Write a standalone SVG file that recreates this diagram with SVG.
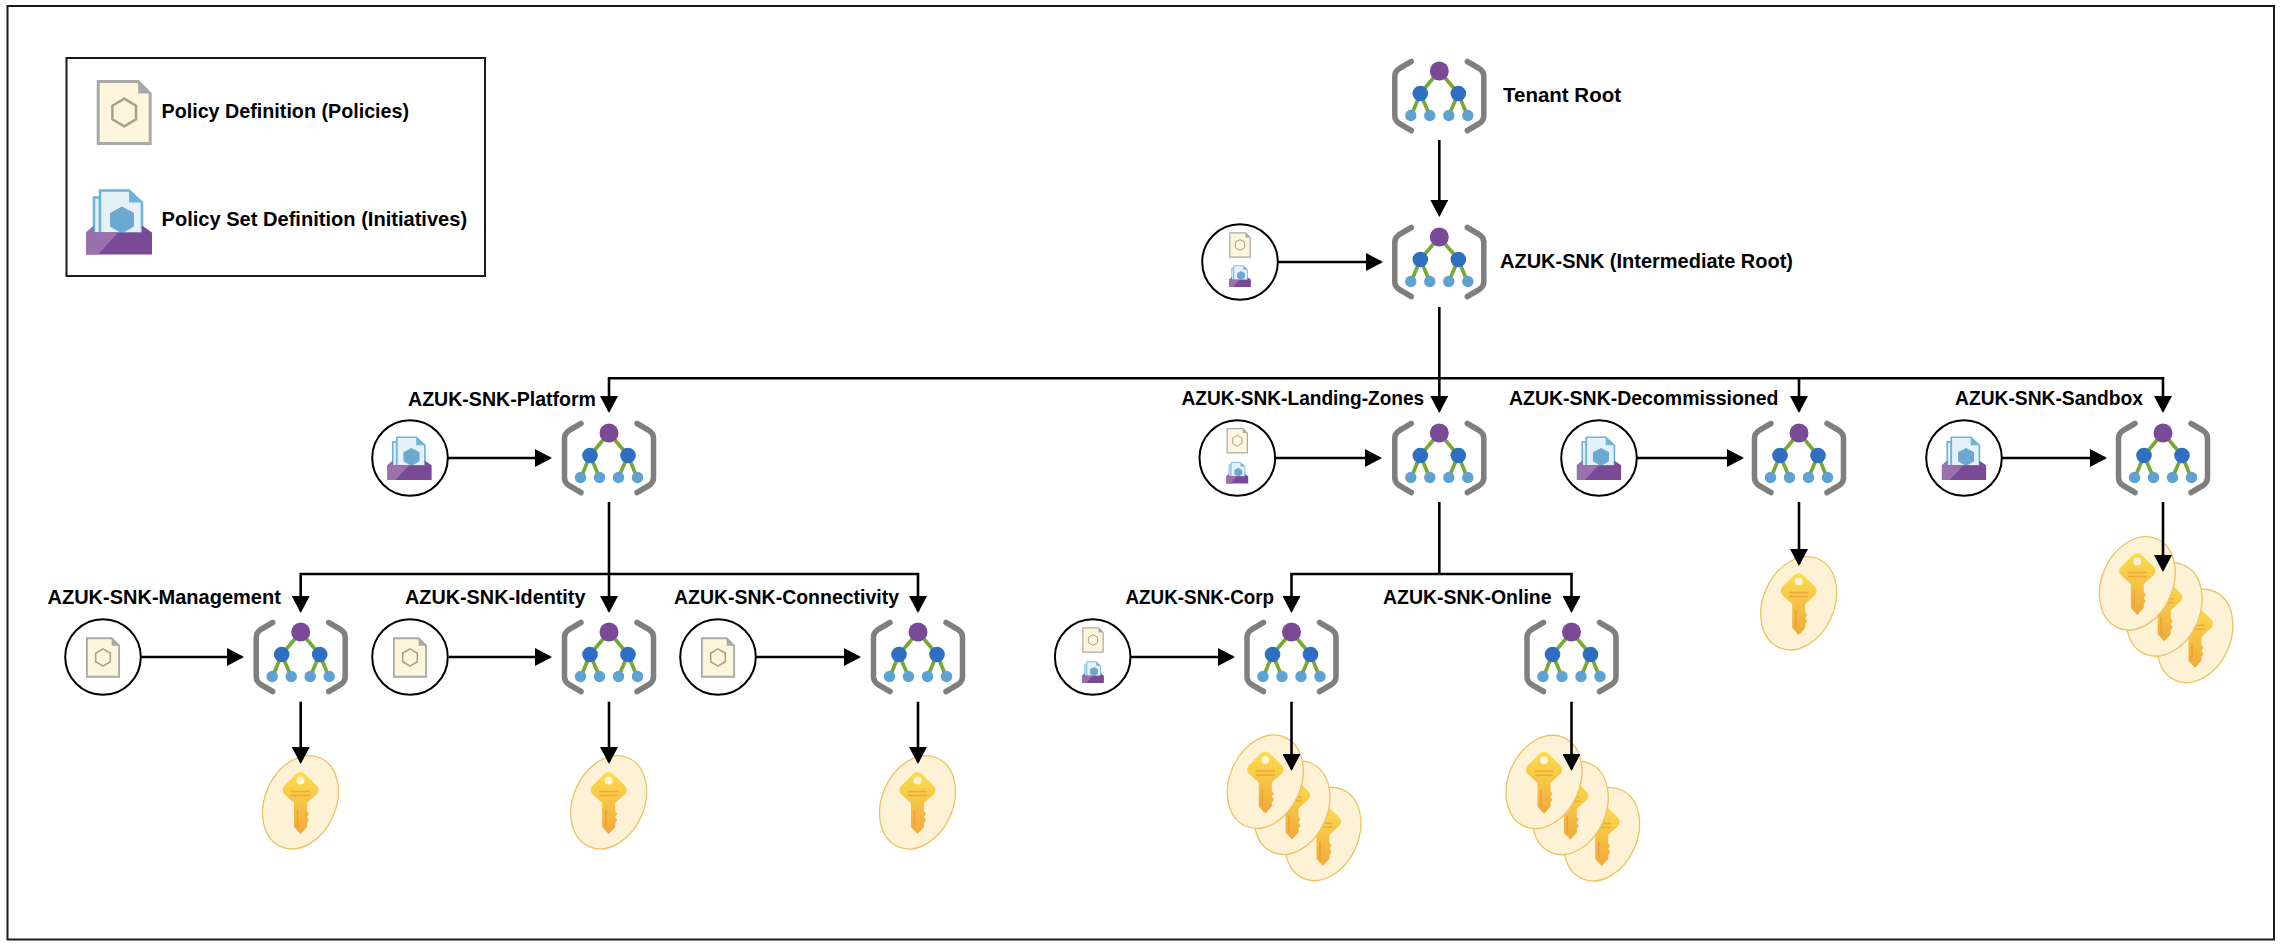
<svg xmlns="http://www.w3.org/2000/svg" width="2284" height="950" viewBox="0 0 2284 950">
<style>
text{font-family:"Liberation Sans",Arial,sans-serif;font-weight:bold;font-size:21px;fill:#000}
.frame{fill:#fff;stroke:#1a1a1a;stroke-width:2}
.c{fill:none;stroke:#000;stroke-width:2.6;marker-end:url(#ah)}
.t{fill:none;stroke:#000;stroke-width:2.6}
.pc{fill:#fff;stroke:#000;stroke-width:2}
.br{fill:none;stroke:#7f7f7f;stroke-width:5.500;stroke-linecap:round;stroke-linejoin:round}
.gl{stroke:#76a832;stroke-width:3.6;fill:none}
.kb{fill:#fdf2d5;stroke:#eec161;stroke-width:1.3}
</style>
<defs>
<marker id="ah" markerUnits="userSpaceOnUse" markerWidth="17" markerHeight="18" refX="15" refY="9" orient="auto" viewBox="0 0 17 18"><path d="M0 0L17 9L0 18z" fill="#000"/></marker>
<linearGradient id="kg" x1="0" y1="0" x2="0" y2="1"><stop offset="0" stop-color="#fcdc4d"/><stop offset="1" stop-color="#f0a93c"/></linearGradient>
<g id="mg">
<path class="br" d="M-28-34.500L-40-27.500Q-44.500-24.500-44.500-20V20Q-44.500 24.500-40 27.500L-28 34.500"/>
<path class="br" d="M28-34.500L40-27.500Q44.500-24.500 44.500-20V20Q44.500 24.500 40 27.500L28 34.500"/>
<path class="gl" d="M0-25L-19-2.500L-28 19.500M-19-2.500L-9.500 19.500M0-25L19-2.500L28 19.500M19-2.500L9.500 19.500"/>
<circle cx="0" cy="-25" r="9.500" fill="#7b4a96"/>
<circle cx="-19" cy="-2.500" r="7.800" fill="#2f6fc1"/>
<circle cx="19" cy="-2.500" r="7.800" fill="#2f6fc1"/>
<circle cx="-28.500" cy="19.500" r="5.700" fill="#5ea2d1"/>
<circle cx="-9.500" cy="19.500" r="5.700" fill="#5ea2d1"/>
<circle cx="9.500" cy="19.500" r="5.700" fill="#5ea2d1"/>
<circle cx="28.500" cy="19.500" r="5.700" fill="#5ea2d1"/>
</g>
<g id="pol">
<path d="M-26-31H14L26-19V31H-26z" fill="#fdf5dc" stroke="#a9a9a9" stroke-width="3"/>
<path d="M14-31L26-19H14z" fill="#a9a9a9"/>
<path d="M0-13.800L11.800-6.900V6.900L0 13.800L-11.800 6.900V-6.900z" fill="none" stroke="#a89f8e" stroke-width="2.500"/>
</g>
<g id="ini">
<path d="M-25-24H-19V12H-25z" fill="#e4f1f9" stroke="#6eb3d8" stroke-width="2.500"/>
<path d="M-19-31H10L23-19V12H-19z" fill="#e4f1f9" stroke="#6eb3d8" stroke-width="2.500"/>
<path d="M10-31L23-19H10z" fill="#6eb3d8"/>
<path d="M3-15L15-8.500V5L3 12L-9 5V-8.500z" fill="#6ba9d2"/>
<path d="M-33 11L-25 4V11H23V4L33 11V33H-33z" fill="#7a4b94"/>
<path d="M-33 11L-25 4V11H-1L-21 33H-33z" fill="#9a70ad"/>
</g>
<g id="key">
<g transform="translate(0 -12.300)">
<path d="M-4-16.500Q0-19.500 4-16.500L16.500-4Q19.500 0 16.500 4L6.500 13V21L8.500 24L6.500 27L8.500 30L6.500 33V37L0 44L-6.500 37V13L-16.500 4Q-19.500 0-16.500-4z" fill="url(#kg)"/>
<circle cx="0" cy="-9.500" r="4" fill="#fdf2d5"/>
<path d="M-9.500 1.500H9.500M-9.500 5.500H9.500" stroke="#eea73a" stroke-width="1.500"/>
<path d="M-3 20V37" stroke="#e9a034" stroke-width="1.500"/>
</g>
</g>
<g id="kn"><ellipse cx="0" cy="0" rx="35.500" ry="48.500" transform="rotate(24)" class="kb"/><use href="#key"/></g>
</defs>
<rect id="frame" class="frame" x="7.500" y="6" width="2266.500" height="933.500"/>
<g id="legend">
<rect class="frame" x="66.500" y="58" width="418.500" height="218"/>
<use href="#pol" transform="translate(124.200 112.500)"/>
<use href="#ini" transform="translate(119 221.500)"/>
<text x="161.500" y="118" textLength="247.600" lengthAdjust="spacingAndGlyphs">Policy Definition (Policies)</text>
<text x="161.500" y="226" textLength="305.600" lengthAdjust="spacingAndGlyphs">Policy Set Definition (Initiatives)</text>
</g>
<g id="keys">
<g id="keys-management"><use href="#kn" x="300.500" y="802.300"/></g>
<g id="keys-identity"><use href="#kn" x="608.700" y="802.300"/></g>
<g id="keys-connectivity"><use href="#kn" x="917.500" y="802.300"/></g>
<g id="keys-decommissioned"><use href="#kn" x="1798.700" y="603.300"/></g>
<g id="keys-sandbox"><use href="#kn" x="2195" y="636"/><use href="#kn" x="2164.200" y="609.500"/><use href="#kn" x="2137.300" y="583.300"/></g>
<g id="keys-corp"><use href="#kn" x="1323" y="834"/><use href="#kn" x="1292" y="807.800"/><use href="#kn" x="1265.300" y="781.700"/></g>
<g id="keys-online"><use href="#kn" x="1601.700" y="834.300"/><use href="#kn" x="1570.300" y="808"/><use href="#kn" x="1544" y="782"/></g>
</g>
<g id="connectors">
<path class="c" d="M1439.300 140V215"/>
<path class="c" d="M1439.300 307V411"/>
<path class="c" d="M1439.300 378.300H609V411"/>
<path class="c" d="M1439.300 378.300H1799V411"/>
<path class="c" d="M1799 378.300H2163V411"/>
<path class="c" d="M609 502V611"/>
<path class="c" d="M609 574H300.700V611"/>
<path class="c" d="M609 574H918V611"/>
<path class="t" d="M1439.300 502V574"/>
<path class="c" d="M1439.300 574H1291.500V611"/>
<path class="c" d="M1439.300 574H1571.500V611"/>
<path class="c" d="M1278 262H1381"/>
<path class="c" d="M448 458H550"/>
<path class="c" d="M1275 458H1380"/>
<path class="c" d="M1637 458H1742"/>
<path class="c" d="M2002 458H2105"/>
<path class="c" d="M141 657H242"/>
<path class="c" d="M449 657H550"/>
<path class="c" d="M756 657H859"/>
<path class="c" d="M1131 657H1233"/>
<path class="c" d="M300.700 701.700V762"/>
<path class="c" d="M609 701.700V762"/>
<path class="c" d="M918 701.700V762"/>
<path class="c" d="M1291.500 701.700V769"/>
<path class="c" d="M1571.500 701.700V769"/>
<path class="c" d="M1799 502V564"/>
<path class="c" d="M2163 502V570"/>
</g>
<g id="tenant-root"><use href="#mg" x="1439.300" y="96"/><text x="1503" y="102" textLength="118" lengthAdjust="spacingAndGlyphs">Tenant Root</text></g>
<g id="intermediate-root"><use href="#mg" x="1439.300" y="262"/><text x="1500" y="268" textLength="293" lengthAdjust="spacingAndGlyphs">AZUK-SNK (Intermediate Root)</text></g>
<g id="platform"><use href="#mg" x="609" y="458"/><text x="408" y="405.500" textLength="188" lengthAdjust="spacingAndGlyphs">AZUK-SNK-Platform</text></g>
<g id="landing-zones"><use href="#mg" x="1439.300" y="458"/><text x="1181.500" y="405" textLength="242.700" lengthAdjust="spacingAndGlyphs">AZUK-SNK-Landing-Zones</text></g>
<g id="decommissioned"><use href="#mg" x="1799" y="458"/><text x="1509" y="405" textLength="269.500" lengthAdjust="spacingAndGlyphs">AZUK-SNK-Decommissioned</text></g>
<g id="sandbox"><use href="#mg" x="2163" y="458"/><text x="1955" y="405" textLength="188" lengthAdjust="spacingAndGlyphs">AZUK-SNK-Sandbox</text></g>
<g id="management"><use href="#mg" x="300.700" y="657"/><text x="47.500" y="604.300" textLength="233.300" lengthAdjust="spacingAndGlyphs">AZUK-SNK-Management</text></g>
<g id="identity"><use href="#mg" x="609" y="657"/><text x="405" y="604.300" textLength="180.500" lengthAdjust="spacingAndGlyphs">AZUK-SNK-Identity</text></g>
<g id="connectivity"><use href="#mg" x="918" y="657"/><text x="674" y="604.300" textLength="225" lengthAdjust="spacingAndGlyphs">AZUK-SNK-Connectivity</text></g>
<g id="corp"><use href="#mg" x="1291.500" y="657"/><text x="1125.500" y="604" textLength="148.600" lengthAdjust="spacingAndGlyphs">AZUK-SNK-Corp</text></g>
<g id="online"><use href="#mg" x="1571.500" y="657"/><text x="1383" y="604" textLength="168.500" lengthAdjust="spacingAndGlyphs">AZUK-SNK-Online</text></g>
<g id="policy-intermediate"><circle class="pc" cx="1240" cy="262" r="37.800"/><use href="#pol" transform="translate(1240 245) scale(.39)"/><use href="#ini" transform="translate(1240 276) scale(.33)"/></g>
<g id="policy-platform"><circle class="pc" cx="410" cy="458" r="37.800"/><use href="#ini" transform="translate(409.500 458) scale(.67)"/></g>
<g id="policy-landing"><circle class="pc" cx="1237.300" cy="458" r="37.800"/><use href="#pol" transform="translate(1237.300 440.700) scale(.39)"/><use href="#ini" transform="translate(1237.300 472.700) scale(.33)"/></g>
<g id="policy-decommissioned"><circle class="pc" cx="1599" cy="458" r="37.800"/><use href="#ini" transform="translate(1599 458) scale(.67)"/></g>
<g id="policy-sandbox"><circle class="pc" cx="1964" cy="458" r="37.800"/><use href="#ini" transform="translate(1964 458) scale(.67)"/></g>
<g id="policy-management"><circle class="pc" cx="103" cy="657" r="37.800"/><use href="#pol" transform="translate(103 657.500) scale(.62)"/></g>
<g id="policy-identity"><circle class="pc" cx="410" cy="657" r="37.800"/><use href="#pol" transform="translate(410 657.500) scale(.62)"/></g>
<g id="policy-connectivity"><circle class="pc" cx="718" cy="657" r="37.800"/><use href="#pol" transform="translate(718 657.500) scale(.62)"/></g>
<g id="policy-corp"><circle class="pc" cx="1092.700" cy="657" r="37.800"/><use href="#pol" transform="translate(1093 640) scale(.39)"/><use href="#ini" transform="translate(1093 672) scale(.33)"/></g>
</svg>
